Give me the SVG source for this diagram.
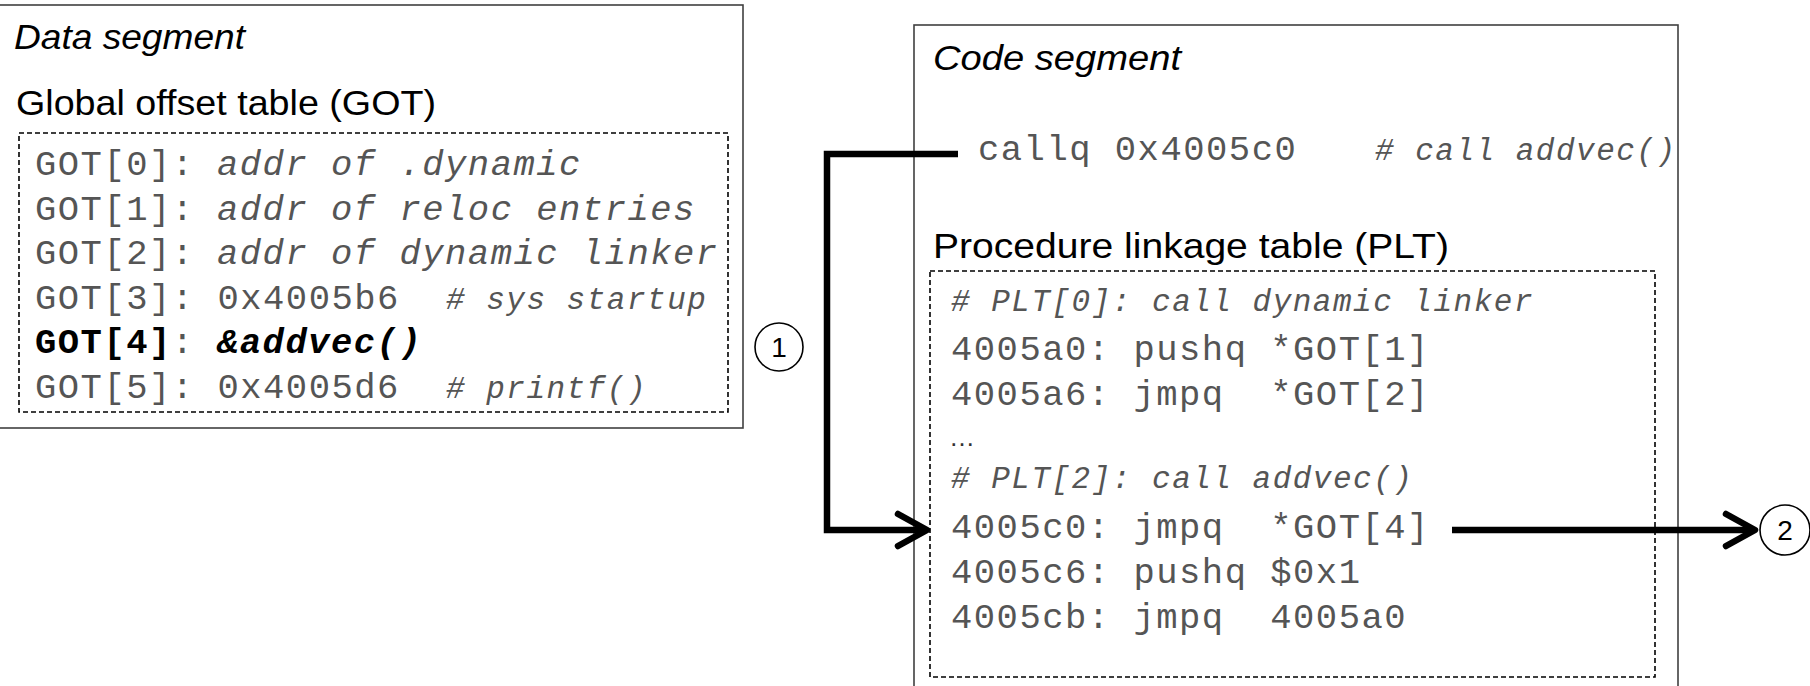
<svg xmlns="http://www.w3.org/2000/svg" width="1810" height="686" viewBox="0 0 1810 686">
<style>
  .seg { fill: #ffffff; stroke: #404040; stroke-width: 1.6; }
  .tbl { fill: none; stroke: #000000; stroke-width: 1.6; stroke-dasharray: 5 3; }
  .hdr { font-family: "Liberation Sans", Arial, sans-serif; font-size: 35px; fill: #000000; }
  .it { font-style: italic; }
  .mono { font-family: "Liberation Mono", "Courier New", monospace; font-size: 35.5px; letter-spacing: 1.5px; fill: #555555; }
  .cmt { font-family: "Liberation Mono", "Courier New", monospace; font-size: 31px; letter-spacing: 1.5px; font-style: italic; fill: #555555; }
  .bold { font-weight: bold; fill: #000000; }
  .conn { fill: none; stroke: #000000; stroke-width: 6.5; stroke-linejoin: miter; }
  .circ { fill: #ffffff; stroke: #000000; stroke-width: 1.6; }
  .num { font-family: "Liberation Sans", Arial, sans-serif; font-size: 28px; fill: #000000; text-anchor: middle; }
</style>
<defs>
  <marker id="chev" markerUnits="userSpaceOnUse" viewBox="-40 -25 50 50" refX="0" refY="0" markerWidth="50" markerHeight="50" orient="auto" overflow="visible">
    <path d="M -25 -16 L 4 0 L -25 16" fill="none" stroke="#000000" stroke-width="6.5" stroke-linecap="round" stroke-linejoin="round"/>
  </marker>
</defs>
<rect width="1810" height="686" fill="#ffffff"/>

<g id="data-segment">
  <rect class="seg" x="-2" y="5" width="745" height="423"/>
  <text class="hdr it" x="14" y="49" textLength="231" lengthAdjust="spacingAndGlyphs">Data segment</text>
</g>

<g id="got">
  <text class="hdr" x="16" y="115" textLength="420" lengthAdjust="spacingAndGlyphs">Global offset table (GOT)</text>
  <rect class="tbl" x="19" y="133" width="709" height="279"/>
  <text class="mono" x="35" y="175">GOT[0]: <tspan class="it" x="217">addr of .dynamic</tspan></text>
  <text class="mono" x="35" y="219.6">GOT[1]: <tspan class="it" x="217">addr of reloc entries</tspan></text>
  <text class="mono" x="35" y="264.2">GOT[2]: <tspan class="it" x="217">addr of dynamic linker</tspan></text>
  <text class="mono" x="35" y="308.8">GOT[3]: 0x4005b6</text>
  <text class="cmt" x="446" y="308.8"># sys startup</text>
  <text class="mono" x="35" y="353.4"><tspan class="bold">GOT[4]</tspan>:<tspan class="bold it" x="217">&amp;addvec()</tspan></text>
  <text class="mono" x="35" y="398">GOT[5]: 0x4005d6</text>
  <text class="cmt" x="446" y="398"># printf()</text>
</g>

<g id="code-segment">
  <rect class="seg" x="914" y="25" width="764" height="700"/>
  <text class="hdr it" x="933" y="70" textLength="248" lengthAdjust="spacingAndGlyphs">Code segment</text>
  <text class="mono" x="978" y="160">callq 0x4005c0</text>
  <text class="cmt" x="1375" y="160"># call addvec()</text>
</g>

<g id="plt">
  <text class="hdr" x="933" y="258" textLength="516" lengthAdjust="spacingAndGlyphs">Procedure linkage table (PLT)</text>
  <rect class="tbl" x="930" y="271" width="725" height="406"/>
  <text class="cmt" x="951" y="311"># PLT[0]: call dynamic linker</text>
  <text class="mono" x="951" y="360" xml:space="preserve">4005a0: pushq *GOT[1]</text>
  <text class="mono" x="951" y="405" xml:space="preserve">4005a6: jmpq  *GOT[2]</text>
  <text x="949" y="446" font-family="Liberation Sans, Arial, sans-serif" font-size="26" fill="#333333">…</text>
  <text class="cmt" x="951" y="488"># PLT[2]: call addvec()</text>
  <text class="mono" x="951" y="538" xml:space="preserve">4005c0: jmpq  *GOT[4]</text>
  <text class="mono" x="951" y="583" xml:space="preserve">4005c6: pushq $0x1</text>
  <text class="mono" x="951" y="628" xml:space="preserve">4005cb: jmpq  4005a0</text>
</g>

<g id="connectors">
  <path class="conn" d="M 958 154 H 827 V 530 H 923" marker-end="url(#chev)"/>
  <path class="conn" d="M 1452 530 H 1751" marker-end="url(#chev)"/>
</g>

<g id="step-1">
  <circle class="circ" cx="779" cy="347" r="24"/>
  <text class="num" x="779" y="357">1</text>
</g>
<g id="step-2">
  <circle class="circ" cx="1785" cy="530" r="25"/>
  <text class="num" x="1785" y="540">2</text>
</g>
</svg>
